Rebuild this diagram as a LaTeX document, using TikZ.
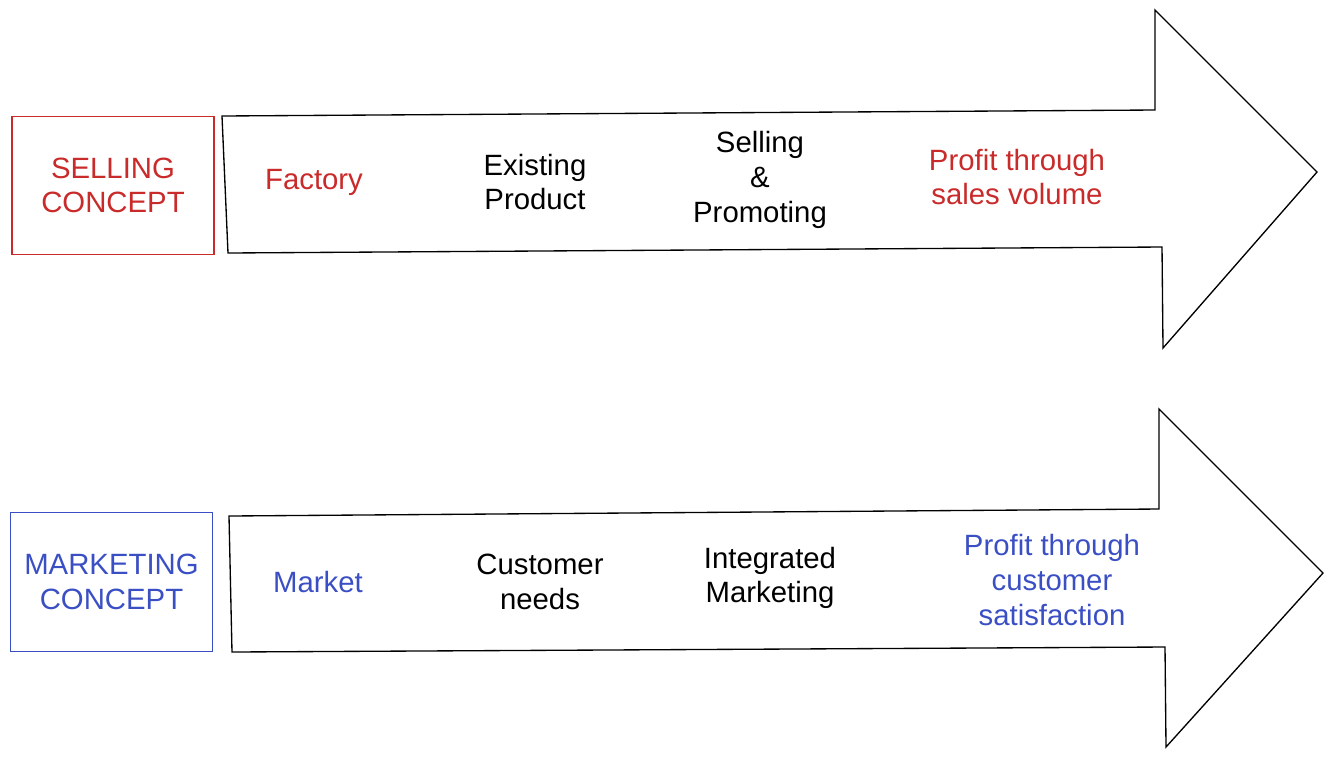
\documentclass[tikz,border=0pt]{standalone}
\usepackage{fontspec}
\setmainfont{Liberation Sans}
\usetikzlibrary{positioning}

\definecolor{sellred}{HTML}{C92A2A}
\definecolor{markblue}{HTML}{3B4FC4}

\begin{document}
\begin{tikzpicture}[
    x=0.75pt, y=-0.75pt,
    conceptbox/.style={rectangle, draw, line width=0.8pt, minimum width=151.5pt, minimum height=104pt, align=center, font=\fontsize{22}{26}\selectfont},
    label/.style={align=center, font=\fontsize{22}{26}\selectfont},
    bigarrow/.style={draw, line width=1pt, line join=miter}
  ]
    \useasboundingbox (0,0) rectangle (1333,758);

    % Selling concept row
    \node[conceptbox, draw=sellred, text=sellred] (selling) at (113,185.5) {SELLING\\CONCEPT};
    \draw[bigarrow] (222,116) -- (1155,110) -- (1155,10) -- (1317,172)
      -- (1163,348) -- (1162,247) -- (228,253) -- cycle;
    \node[label, text=sellred] (factory) at (314,182) {Factory};
    \node[label] (existing) at (535,182) {Existing\\Product};
    \node[label] (promoting) at (760,180) {Selling\\\&\\Promoting};
    \node[label, text=sellred] (volume) at (1017,177) {Profit through\\sales volume};

    % Marketing concept row
    \node[conceptbox, draw=markblue, text=markblue] (marketing) at (111.5,582) {MARKETING\\CONCEPT};
    \draw[bigarrow] (229,516) -- (1159,509) -- (1159,409) -- (1323,573)
      -- (1166,747) -- (1165,647) -- (232,652) -- cycle;
    \node[label, text=markblue] (market) at (318,582) {Market};
    \node[label] (needs) at (540,582) {Customer\\needs};
    \node[label] (integrated) at (770,578) {Integrated\\Marketing};
    \node[label, text=markblue] (satisfaction) at (1052,580) {Profit through\\customer\\satisfaction};
\end{tikzpicture}
\end{document}
